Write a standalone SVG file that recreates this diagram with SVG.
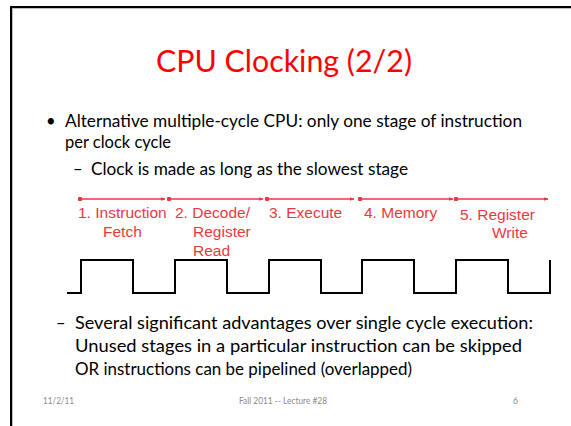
<svg xmlns="http://www.w3.org/2000/svg" width="571" height="426" viewBox="0 0 571 426">
  <defs>
    <style>
      .body { font-family: Lato, "Noto Sans", sans-serif; font-size: 16.5px; fill: #000; }
      .title { font-family: Lato, "Noto Sans", sans-serif; font-size: 30.5px; fill: #ff0000; }
      .stage { font-family: "Liberation Sans", Arial, sans-serif; font-size: 15.5px; fill: #e8393f; }
      .foot { font-family: Lato, "Noto Sans", sans-serif; font-size: 8.5px; fill: #8a8a8a; }
      .span { stroke: #e8393f; stroke-width: 1.5; fill: none; marker-start: url(#dot); marker-end: url(#head); }
      .clock { stroke: #000; stroke-width: 2; fill: none; }
    </style>
    <marker id="head" viewBox="0 0 10 10" refX="9" refY="5" markerWidth="5" markerHeight="5" orient="auto" markerUnits="userSpaceOnUse">
      <path d="M0,1 L10,5 L0,9 Z" fill="#e8393f"/>
    </marker>
    <marker id="dot" viewBox="0 0 10 10" refX="5" refY="5" markerWidth="4.5" markerHeight="4.5" markerUnits="userSpaceOnUse">
      <circle cx="5" cy="5" r="5" fill="#e8393f"/>
    </marker>
  </defs>

  <rect width="571" height="426" fill="#ffffff"/>

  <!-- slide frame -->
  <g id="frame">
    <rect x="10" y="6" width="561" height="2" fill="#000"/>
    <rect x="10" y="6" width="2" height="420" fill="#000"/>
    <rect x="12" y="8" width="559" height="1" fill="#bdbdbd"/>
    <rect x="12" y="8" width="1" height="418" fill="#bdbdbd"/>
  </g>

  <g id="title">
    <text class="title" x="156" y="72" textLength="256" lengthAdjust="spacingAndGlyphs">CPU Clocking (2/2)</text>
  </g>

  <g id="bullets">
    <text class="body" x="46" y="127">•</text>
    <text class="body" x="65" y="127" textLength="457" lengthAdjust="spacingAndGlyphs">Alternative multiple-cycle CPU: only one stage of instruction</text>
    <text class="body" x="65" y="148" textLength="106" lengthAdjust="spacingAndGlyphs">per clock cycle</text>
    <text class="body" x="73" y="175">–</text>
    <text class="body" x="91" y="175" textLength="317" lengthAdjust="spacingAndGlyphs">Clock is made as long as the slowest stage</text>
    <text class="body" x="56" y="329">–</text>
    <text class="body" x="75" y="329" textLength="458" lengthAdjust="spacingAndGlyphs">Several significant advantages over single cycle execution:</text>
    <text class="body" x="75" y="352" textLength="447" lengthAdjust="spacingAndGlyphs">Unused stages in a particular instruction can be skipped</text>
    <text class="body" x="75" y="375" textLength="337" lengthAdjust="spacingAndGlyphs">OR instructions can be pipelined (overlapped)</text>
  </g>

  <!-- stage spans -->
  <g id="connectors">
    <line class="span" x1="80" y1="199" x2="165" y2="199"/>
    <line class="span" x1="169" y1="199" x2="263" y2="199"/>
    <line class="span" x1="267" y1="199" x2="354" y2="199"/>
    <line class="span" x1="360" y1="199" x2="453" y2="199"/>
    <line class="span" x1="456" y1="199" x2="548" y2="199"/>
  </g>

  <g id="stage1">
    <text class="stage" x="78" y="218">1. Instruction</text>
    <text class="stage" x="103" y="237">Fetch</text>
  </g>
  <g id="stage2">
    <text class="stage" x="175" y="218">2. Decode/</text>
    <text class="stage" x="193" y="237">Register</text>
    <text class="stage" x="193" y="256">Read</text>
  </g>
  <g id="stage3">
    <text class="stage" x="269" y="218">3. Execute</text>
  </g>
  <g id="stage4">
    <text class="stage" x="364" y="218">4. Memory</text>
  </g>
  <g id="stage5">
    <text class="stage" x="460" y="220">5. Register</text>
    <text class="stage" x="492" y="238">Write</text>
  </g>

  <g id="clock">
    <polyline class="clock" points="67,293 81,293 81,260 133,260 133,293 175,293 175,260 227,260 227,293 269,293 269,260 321,260 321,293 362,293 362,260 414,260 414,293 456,293 456,260 508,260 508,293 550,293 550,260"/>
  </g>

  <g id="footer">
    <text class="foot" x="43" y="404" textLength="31" lengthAdjust="spacingAndGlyphs">11/2/11</text>
    <text class="foot" x="239" y="404" textLength="88" lengthAdjust="spacingAndGlyphs">Fall 2011 -- Lecture #28</text>
    <text class="foot" x="513" y="404">6</text>
  </g>
</svg>
